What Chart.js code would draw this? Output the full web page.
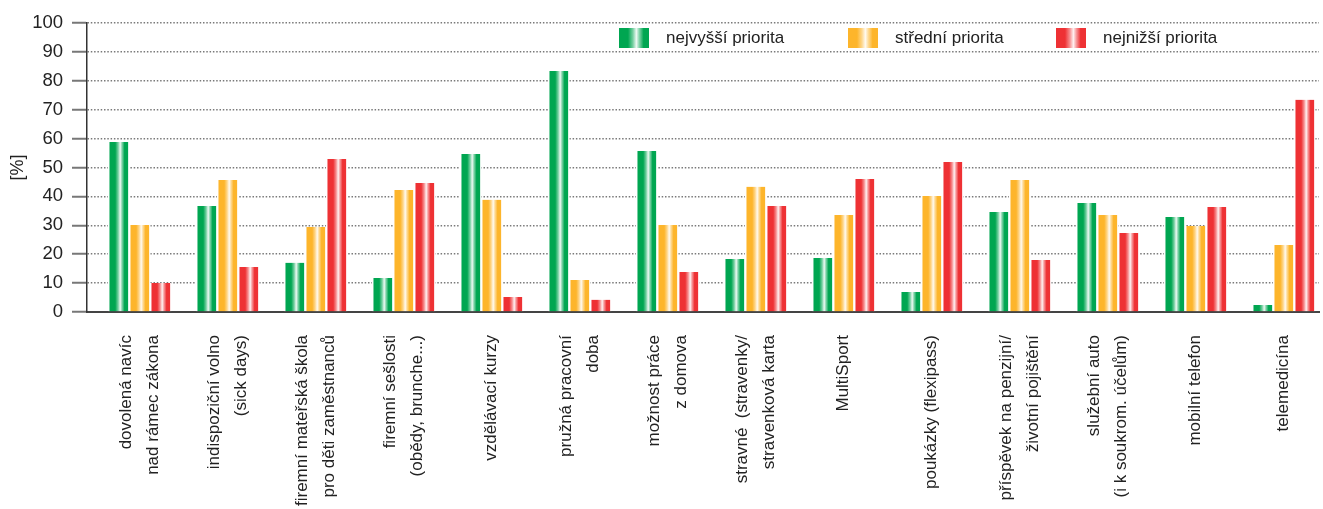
<!DOCTYPE html>
<html>
<head>
<meta charset="utf-8">
<script src="https://cdn.jsdelivr.net/npm/chart.js@4/dist/chart.umd.min.js"></script>
<style>
html, body { margin: 0; padding: 0; background: #fff; overflow: hidden; }
canvas { display: block; }
</style>
</head>
<body>
<canvas id="c" width="1323" height="509"></canvas>
<script>
// ---- data ----
const categories = [
  ['dovolená navíc', 'nad rámec zákona'],
  ['indispoziční volno', '(sick days)'],
  ['firemní mateřská škola', 'pro děti zaměstnanců'],
  ['firemní sešlosti', '(obědy, brunche...)'],
  ['vzdělávací kurzy'],
  ['pružná pracovní', 'doba'],
  ['možnost práce', 'z domova'],
  ['stravné  (stravenky/', 'stravenková karta'],
  ['MultiSport'],
  ['poukázky (flexipass)'],
  ['příspěvek na penzijní/', 'životní pojištění'],
  ['služební auto', '(i k soukrom. účelům)'],
  ['mobilní telefon'],
  ['telemedicína']
];
const seriesNames = ['nejvyšší priorita', 'střední priorita', 'nejnižší priorita'];
const nejvyssi = [58.8, 36.7, 17.0, 11.8, 54.7, 83.4, 55.7, 18.3, 18.7, 6.9, 34.6, 37.7, 32.9, 2.4];
const stredni  = [30.1, 45.7, 29.4, 42.2, 38.8, 11.1, 30.1, 43.3, 33.6, 40.1, 45.7, 33.6, 29.8, 23.2];
const nejnizsi = [10.0, 15.6, 52.9, 44.6, 5.2, 4.2, 13.8, 36.7, 46.0, 51.9, 18.0, 27.3, 36.3, 73.4];
const yTicks = [0, 10, 20, 30, 40, 50, 60, 70, 80, 90, 100];
const yTitle = '[%]';

// ---- styling ----
const colors = ['#00a651', '#fdb52b', '#ee3134'];
const FONT = '"Liberation Sans", Arial, Helvetica, sans-serif';
const Y_AXIS_W = 87, PAD_R = 4, PAD_T = 23, X_AXIS_H = 197;
const X_MIN = -0.6, X_MAX = 13.4;
const BAR_THICK = 21;
const BAR_BORDER = 1.5;
const LABEL_LH = 27;

function mixWhite(hex, t) {
  const n = parseInt(hex.slice(1), 16);
  const r = (n >> 16) & 255, g = (n >> 8) & 255, b = n & 255;
  const f = v => Math.round(v + (255 - v) * t);
  return `rgb(${f(r)},${f(g)},${f(b)})`;
}
function stripeGradient(ctx, color, x0, x1) {
  const g = ctx.createLinearGradient(x0, 0, x1, 0);
  g.addColorStop(0, color);
  g.addColorStop(0.3, color);
  g.addColorStop(0.46, mixWhite(color, 0.45));
  g.addColorStop(0.58, mixWhite(color, 0.93));
  g.addColorStop(0.68, mixWhite(color, 0.5));
  g.addColorStop(0.82, color);
  g.addColorStop(1, color);
  return g;
}
function barFill(context) {
  const chart = context.chart;
  const xs = chart.scales && chart.scales.x;
  const d = context.datasetIndex, i = context.dataIndex;
  const base = colors[d];
  if (!xs || i === undefined) return base;
  const p0 = xs.getPixelForValue(i);
  if (!isFinite(p0)) return base;
  const left = p0 - 1.5 * BAR_THICK + d * BAR_THICK + BAR_BORDER;
  return stripeGradient(chart.ctx, base, left, left + BAR_THICK - 2 * BAR_BORDER);
}

const legendPlugin = {
  id: 'priorityLegend',
  afterDraw(chart) {
    const ctx = chart.ctx;
    const top = chart.chartArea.top;
    const itemX = [619, 848, 1056];
    ctx.save();
    ctx.font = '17px ' + FONT;
    ctx.textBaseline = 'middle';
    seriesNames.forEach((name, k) => {
      const x = itemX[k];
      ctx.fillStyle = stripeGradient(ctx, colors[k], x, x + 30);
      ctx.fillRect(x, top + 5, 30, 20);
      ctx.fillStyle = '#222';
      ctx.fillText(name, x + 47, top + 15.5);
    });
    ctx.restore();
  }
};

const series = [nejvyssi, stredni, nejnizsi];
new Chart(document.getElementById('c'), {
  type: 'bar',
  data: {
    datasets: series.map((vals, k) => ({
      label: seriesNames[k],
      data: vals.map((v, i) => ({ x: i, y: v })),
      backgroundColor: barFill,
      borderColor: '#ffffff',
      borderWidth: { left: BAR_BORDER, right: BAR_BORDER, top: 0, bottom: 0 },
      borderSkipped: false,
      barThickness: BAR_THICK
    }))
  },
  options: {
    responsive: false,
    animation: false,
    devicePixelRatio: 1,
    layout: { padding: { left: 0, right: PAD_R, top: PAD_T, bottom: 0 } },
    plugins: { legend: { display: false }, tooltip: { enabled: false } },
    scales: {
      x: {
        type: 'linear',
        min: X_MIN,
        max: X_MAX,
        offset: false,
        grid: { display: false, drawTicks: true, tickLength: 20 },
        border: { display: true, color: '#444', width: 2 },
        afterBuildTicks: s => {
          const unit = (s.chart.width - Y_AXIS_W - PAD_R) / (X_MAX - X_MIN);
          s.ticks = categories.map((c, i) => ({ value: i - (c.length - 1) * LABEL_LH / 2 / unit }));
        },
        afterFit: s => { s.height = X_AXIS_H; },
        ticks: {
          autoSkip: false,
          minRotation: 90,
          maxRotation: 90,
          padding: 3,
          color: '#222',
          font: { family: FONT, size: 17, lineHeight: LABEL_LH + 'px' },
          callback: (v, idx) => categories[idx]
        }
      },
      y: {
        min: 0,
        max: 100,
        afterBuildTicks: s => { s.ticks = yTicks.map(v => ({ value: v })); },
        afterFit: s => { s.width = Y_AXIS_W; },
        grid: {
          color: c => (c.tick && c.tick.value === 0) ? 'rgba(0,0,0,0)' : '#7a7a7a',
          lineWidth: 1.5,
          tickLength: 15,
          tickColor: '#777',
          tickWidth: 2,
          tickBorderDash: []
        },
        border: { display: true, color: '#333', width: 1.5, dash: [1.5, 1.8] },
        ticks: { padding: 9, color: '#222', font: { family: FONT, size: 18.5 } },
        title: { display: true, text: yTitle, color: '#222', font: { family: FONT, size: 18 }, padding: { top: 7, bottom: 0 } }
      }
    }
  },
  plugins: [legendPlugin]
});
</script>
</body>
</html>
